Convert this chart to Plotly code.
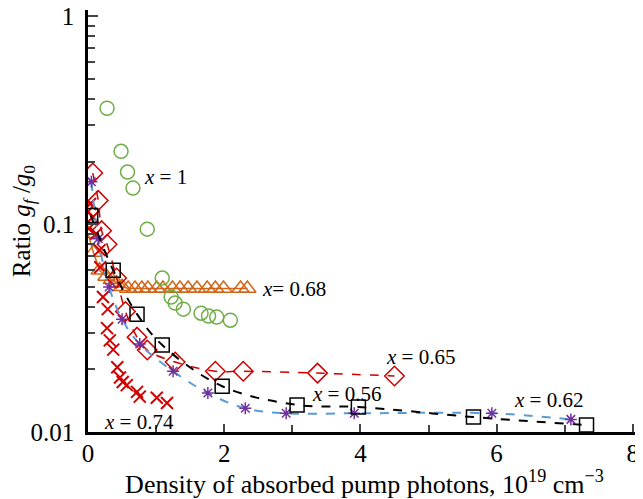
import math
import plotly.graph_objects as go

# x = 1 (green circles)
x1_n = [0.28, 0.485, 0.58, 0.66, 0.87, 1.09, 1.22, 1.28, 1.40, 1.66, 1.77, 1.89, 2.09]
x1_r = [0.361, 0.224, 0.178, 0.149, 0.0946, 0.055, 0.0446, 0.0417, 0.039, 0.0373, 0.0361, 0.0357, 0.0345]

# x = 0.68 (orange triangles)
x068_n = [0.0, 0.08, 0.17, 0.27, 0.35, 0.42, 0.50, 0.59, 0.69, 0.79, 0.88, 1.01, 1.10, 1.24, 1.35,
          1.47, 1.60, 1.75, 1.87, 1.99, 2.24, 2.34]
x068_r = [0.090, 0.073, 0.060, 0.056, 0.054, 0.052, 0.050, 0.049, 0.049, 0.049, 0.049, 0.049, 0.049,
          0.049, 0.049, 0.049, 0.049, 0.049, 0.049, 0.049, 0.049, 0.049]

# x = 0.65 (red diamonds)
x065_n = [0.07, 0.15, 0.20, 0.28, 0.42, 0.55, 0.72, 0.87, 1.28, 1.87, 2.28, 3.37, 4.5]
x065_r = [0.176, 0.13, 0.093, 0.08, 0.055, 0.038, 0.0286, 0.0248, 0.0217, 0.0196, 0.0196, 0.0192, 0.0186]

# x = 0.74 (red crosses)
x074_n = [0.03, 0.0, 0.07, 0.01, 0.12, 0.17, 0.18, 0.22, 0.29, 0.28, 0.32, 0.37, 0.43, 0.47, 0.51,
          0.57, 0.72, 0.76, 1.01, 1.16]
x074_r = [0.125, 0.115, 0.108, 0.095, 0.09, 0.075, 0.062, 0.0446, 0.039, 0.0316, 0.0276, 0.0249,
          0.0205, 0.0183, 0.0174, 0.0168, 0.0156, 0.0148, 0.0146, 0.0138]

# x = 0.56 (black squares)
x056_n = [0.04, 0.37, 0.72, 1.09, 1.97, 3.07, 3.97, 5.66, 7.32]
x056_r = [0.11, 0.060, 0.0369, 0.0262, 0.0166, 0.0135, 0.0132, 0.0118, 0.0108]

# x = 0.62 (purple asterisks)
x062_n = [0.05, 0.15, 0.31, 0.50, 0.76, 1.25, 1.76, 2.31, 2.91, 3.91, 5.93, 7.09]
x062_r = [0.16, 0.085, 0.0498, 0.0349, 0.0265, 0.0196, 0.0154, 0.013, 0.0123, 0.0123, 0.0123, 0.0115]

font = 'Liberation Serif'
fig = go.Figure()

fig.add_trace(go.Scatter(x=x068_n, y=x068_r, mode='lines+markers',
                         line=dict(color='#d0661a', width=1.5),
                         marker=dict(symbol='triangle-up-open', size=15, color='#d0661a',
                                     line=dict(width=1.5))))
fig.add_trace(go.Scatter(x=x1_n, y=x1_r, mode='markers',
                         marker=dict(symbol='circle-open', size=14, color='#70ad47',
                                     line=dict(width=1.5))))
fig.add_trace(go.Scatter(x=x074_n, y=x074_r, mode='markers',
                         marker=dict(symbol='x-thin-open', size=12, color='#d00000',
                                     line=dict(width=2))))
fig.add_trace(go.Scatter(x=x065_n, y=x065_r, mode='lines+markers', line_shape='spline',
                         line=dict(color='#d00000', width=1.5, dash='dash'),
                         marker=dict(symbol='diamond-open', size=15, color='#d00000',
                                     line=dict(width=1.5))))
fig.add_trace(go.Scatter(x=x062_n, y=x062_r, mode='lines', line_shape='spline',
                         line=dict(color='#5b9bd5', width=2, dash='dash')))
fig.add_trace(go.Scatter(x=x062_n, y=x062_r, mode='markers',
                         marker=dict(symbol='asterisk-open', size=10, color='#7030a0',
                                     line=dict(width=1.5, color='#7030a0'))))
fig.add_trace(go.Scatter(x=x056_n, y=x056_r, mode='lines+markers', line_shape='spline',
                         line=dict(color='black', width=2, dash='dash'),
                         marker=dict(symbol='square-open', size=14, color='black',
                                     line=dict(width=1.5))))

labels = [(0.79, 0.168, ' = 1'), (2.53, 0.049, '= 0.68'), (4.34, 0.0229, ' = 0.65'),
          (3.26, 0.0152, ' = 0.56'), (6.23, 0.01426, ' = 0.62'), (0.2, 0.01117, ' = 0.74')]
for lx, ly, txt in labels:
    fig.add_annotation(x=lx, y=math.log10(ly), text='<i>x</i>' + txt, showarrow=False,
                       xanchor='left', yanchor='middle', font=dict(family=font, size=21, color='black'))

minor_y = [m * d for d in (0.01, 0.1) for m in range(2, 10)]
fig.update_xaxes(range=[0, 8.12], tickvals=[0, 2, 4, 6, 8], ticks='inside', ticklen=8, tickwidth=1.5,
                 showline=True, linewidth=2.5, linecolor='black', showgrid=False, zeroline=False,
                 minor=dict(tickvals=[1, 3, 5, 7], ticks='inside', ticklen=7, tickwidth=1.5),
                 tickfont=dict(family=font, size=25, color='black'), automargin=False,
                 ticklabeloverflow='allow', ticklabelstandoff=-3,
                 title=dict(text='Density of absorbed pump photons, 10<sup>19</sup> cm<sup>\u22123</sup>',
                            font=dict(family=font, size=26, color='black'), standoff=0))
fig.update_yaxes(type='log', range=[-2, 0.03], tickvals=[0.01, 0.1, 1], ticktext=['0.01', '0.1', '1'],
                 ticks='inside', ticklen=10, tickwidth=1.5, ticklabelstandoff=6,
                 showline=True, linewidth=2.5, linecolor='black', showgrid=False, zeroline=False,
                 minor=dict(tickvals=minor_y, ticks='inside', ticklen=7, tickwidth=1.5),
                 tickfont=dict(family=font, size=25, color='black'), automargin=False,
                 ticklabeloverflow='allow',
                 title=dict(text='Ratio <i>g<sub>f</sub></i> /<i>g</i><sub>0</sub>',
                            font=dict(family=font, size=25, color='black'), standoff=4))

# page body has an 8px margin, so the figure is shifted by 8px right and down
fig.update_layout(width=635, height=491, showlegend=False,
                  margin=dict(l=80, r=2, t=2, b=67),
                  plot_bgcolor='white', paper_bgcolor='white')

fig.write_html('out.html')
